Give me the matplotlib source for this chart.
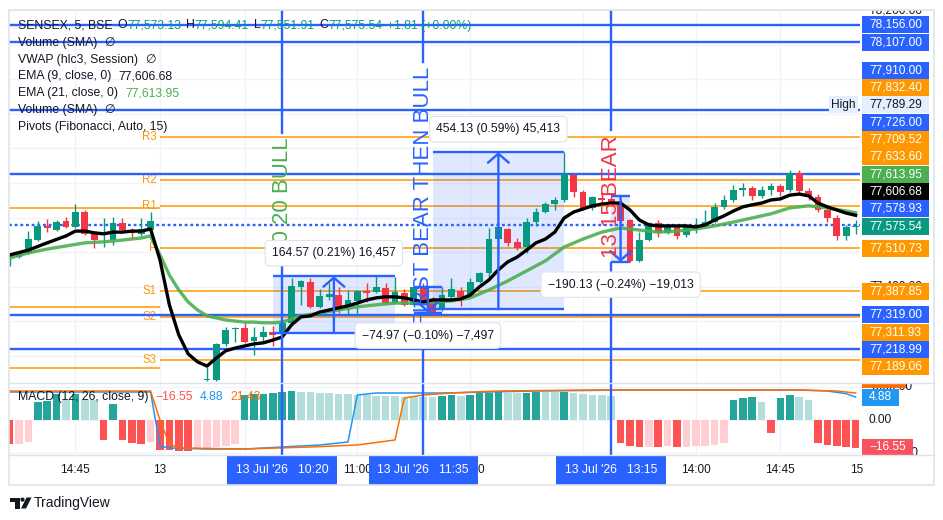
import numpy as np
import matplotlib
matplotlib.use("Agg")
import matplotlib.pyplot as plt
from matplotlib.patches import Rectangle, Polygon, Ellipse
from matplotlib.lines import Line2D
from matplotlib.text import Annotation
from matplotlib.transforms import blended_transform_factory as blend

plt.rcParams['font.family'] = ['Liberation Sans', 'DejaVu Sans']

# ---------------- data ----------------
bar_idx = list(range(-16, 75))   # 5-minute bars, 0 = 13 Jul '26 09:15
opens = [77486, 77486, 77498, 77535, 77576, 77564, 77590, 77573, 77616, 77553, 77553, 77535, 77584, 77561, 77553, 77564,
         77095, 77010, 76830, 76920, 76990, 77131, 77131, 77235, 77278, 77281, 77244, 77255, 77270, 77267, 77296,
         77400, 77414, 77342, 77371, 77376, 77342, 77359, 77388, 77385, 77397, 77353, 77382, 77348, 77400, 77362,
         77333, 77371, 77388, 77376, 77414, 77440, 77538, 77567, 77530, 77515, 77587, 77616, 77639, 77651, 77723,
         77674, 77628, 77657, 77654, 77639, 77593, 77475, 77535, 77584, 77556, 77576, 77550, 77570, 77579, 77587,
         77631, 77651, 77680, 77686, 77663, 77680, 77691, 77680, 77729, 77677, 77660, 77622, 77599, 77547, 77573.13]
highs = [77498, 77498, 77561, 77590, 77596, 77593, 77602, 77639, 77622, 77556, 77599, 77602, 77599, 77570, 77599, 77616,
         77112, 77030, 76960, 77020, 77100, 77168, 77238, 77284, 77284, 77298, 77284, 77287, 77287, 77304, 77426,
         77420, 77426, 77394, 77411, 77400, 77391, 77391, 77411, 77434, 77411, 77429, 77394, 77400, 77411, 77371,
         77400, 77426, 77400, 77426, 77443, 77570, 77587, 77570, 77541, 77599, 77628, 77645, 77660, 77789.29, 77726,
         77680, 77663, 77674, 77663, 77651, 77596, 77558, 77587, 77593, 77582, 77579, 77579, 77599, 77622, 77642,
         77665, 77694, 77700, 77691, 77691, 77700, 77697, 77738, 77738, 77686, 77668, 77637, 77608, 77579, 77594.41]
lows = [77460, 77483, 77495, 77532, 77558, 77561, 77570, 77570, 77550, 77512, 77515, 77521, 77558, 77541, 77547, 77561,
        76940, 76780, 76800, 76900, 76970, 77128, 77128, 77229, 77241, 77238, 77203, 77238, 77229, 77264, 77293,
        77348, 77339, 77339, 77362, 77324, 77319, 77316, 77356, 77382, 77350, 77350, 77345, 77342, 77356, 77319,
        77330, 77368, 77345, 77374, 77411, 77426, 77492, 77518, 77506, 77498, 77576, 77613, 77622, 77645, 77660,
        77622, 77622, 77642, 77637, 77587, 77472, 77472, 77532, 77544, 77553, 77538, 77544, 77556, 77576, 77584,
        77625, 77645, 77663, 77651, 77657, 77665, 77663, 77674, 77671, 77651, 77616, 77587, 77535, 77535, 77551.91]
closes = [77489, 77495, 77538, 77576, 77570, 77587, 77573, 77616, 77553, 77535, 77556, 77584, 77564, 77556, 77567, 77590,
          77010, 76830, 76920, 76990, 77085, 77134, 77235, 77275, 77281, 77241, 77255, 77270, 77261, 77296, 77402,
          77417, 77342, 77374, 77379, 77342, 77362, 77388, 77382, 77400, 77353, 77385, 77348, 77400, 77362, 77327,
          77376, 77394, 77371, 77414, 77440, 77538, 77573, 77527, 77512, 77587, 77616, 77639, 77651, 77726, 77674,
          77625, 77660, 77651, 77639, 77590, 77475, 77535, 77584, 77556, 77579, 77547, 77576, 77576, 77587, 77631,
          77651, 77680, 77686, 77663, 77680, 77691, 77674, 77729, 77677, 77660, 77622, 77599, 77547, 77573.73, 77575.54]

ema9_idx = [-16, -14, -12, -10, -9, -8, -7, -6, -5, -4, -3, -2, -1] + list(range(0, 75))
ema9_val = [77492, 77506, 77527, 77547, 77561, 77561, 77556, 77553, 77558, 77558, 77561, 77561, 77567,
            77478, 77348, 77261, 77206, 77183, 77171, 77194, 77215, 77223, 77229, 77235, 77238, 77246, 77255, 77290,
            77313, 77316, 77327, 77333, 77339, 77345, 77353, 77362, 77368, 77371,
            77371, 77368, 77362, 77356, 77362, 77362, 77362, 77365, 77376, 77400,
            77420, 77449, 77472, 77486, 77506, 77527, 77538, 77558, 77599, 77616,
            77625, 77634, 77639, 77642, 77642, 77622, 77593, 77579, 77576, 77576,
            77576, 77576, 77573, 77579, 77593, 77605, 77619, 77631, 77637, 77642,
            77651, 77654, 77665, 77668, 77663, 77642, 77631, 77622, 77613, 77606.68]
ema21_idx = [-16, -14, -12, -10, -8, -6, -4, -2, -1] + list(range(0, 16)) + list(range(17, 74, 2)) + [74]
ema21_val = [77483, 77498, 77509, 77518, 77527, 77530, 77535, 77541, 77547,
             77492, 77434, 77391, 77356, 77333, 77316, 77310, 77304, 77301, 77298, 77298, 77296, 77296, 77298, 77307, 77316,
             77324, 77333, 77342, 77348, 77353, 77353, 77356, 77359, 77368, 77391, 77417, 77446, 77475, 77515, 77538,
             77558, 77570, 77564, 77558, 77561, 77567, 77576, 77587, 77599, 77611, 77628, 77634, 77628, 77619,
             77613.95]

pivot_names = ["R3", "R2", "R1", "P", "S1", "S2", "S3"]
pivot_levels = [77832.40, 77709.52, 77633.60, 77510.73, 77387.85, 77311.93, 77189.06]
prev_pivot_levels = [77628.0, 77342.0, 77165.5]

blue_levels = [78156.00, 78107.00, 77910.00, 77726.00, 77319.00, 77218.99]
dotted_blue_level = 77578.93

price_ticks_shown = [78200, 77400]   # the other scale ticks sit under the level labels

# price-range measurements: start bar, end bar, start price, end price, caption
measure_i0 = [12, 27, 29, 48]
measure_i1 = [25, 30, 43, 50]
measure_p0 = [77266.40, 77400.00, 77335.16, 77662.50]
measure_p1 = [77430.97, 77325.03, 77789.29, 77472.37]
measure_txt = ["164.57 (0.21%) 16,457", "\u221274.97 (\u22120.10%) \u22127,497",
               "454.13 (0.59%) 45,413", "\u2212190.13 (\u22120.24%) \u221219,013"]

marker_idx = [13, 28, 48]
marker_text = ["10 20 BULL", "FIRST BEAR THEN BULL", "13 15 BEAR"]
marker_date = ["13 Jul '26   10:20", "13 Jul '26   11:35", "13 Jul '26   13:15"]

time_tick_idx = [-9, 0, 21, 33, 57, 66, 75]
time_tick_lbl = ["14:45", "13", "11:00", "12:00", "14:00", "14:45", "15:30"]
grid_time_idx = [-9, 0, 9, 21, 33, 45, 57, 66]

hist_val = [-720, -714, -660, 540, 570, 780, 630, 780, 630, 600, -600, 480, -600, -690, -720, -660,
            -900, -909, -918, -927, -840, -834, -810, -780, -720, 750, 780, 795, 810, 840, 870,
            840, 834, 810, 804, 780, 774, 750, 744, 720, 714, 708, 702, 696, 690, 684,
            720, 750, 720, 750, 810, 819, 828, 822, 816, 825, 840, 834, 828, 840, 810,
            780, 750, 738, 720, -690, -780, -810, -804, -816, -780, -810, -795, -786, -765, -750,
            -690, 600, 660, 690, 540, -390, 660, 750, 690, 600, -690, -750, -780, -810, -825]
macd_idx = [-16, -1, 0, 1, 5, 9, 13, 17, 20, 21, 23, 30, 40, 50, 68, 71, 73, 74]
macd_val = [840, 840, -780, -840, -870, -870, -810, -750, -660, 750, 810, 810, 870, 900, 900, 870, 790, 690]
signal_idx = [-16, -1, 0, 1, 2, 9, 16, 21, 25, 26, 28, 31, 36, 46, 68, 72, 74]
signal_val = [870, 870, 0, -720, -840, -870, -810, -750, -600, 660, 750, 810, 870, 900, 900, 870, 810]
macd_readout = {"hist": "\u221216.55", "macd": "4.88", "signal": "21.43"}

# ---------------- style ----------------
UP, DOWN = "#089981", "#f23645"
BLUE, ORANGE, GREEN, TEAL = "#2962ff", "#ff9800", "#4caf50", "#089981"
DARK, GRID, SEP = "#131722", "#f0f3fa", "#e0e3eb"

W, H = 943, 520
fig = plt.figure(figsize=(W / 100, H / 100), dpi=100)
fig.patch.set_facecolor("white")


def new_axes(x0, y0, x1, y1):
    a = fig.add_axes([x0 / W, 1 - y1 / H, (x1 - x0) / W, (y1 - y0) / H])
    a.set_xticks([])
    a.set_yticks([])
    for s in a.spines.values():
        s.set_visible(False)
    a.set_facecolor("none")
    return a


ax = new_axes(9, 10, 860, 383)
axm = new_axes(9, 383, 860, 455)
sc = new_axes(860, 10, 934, 383)
scm = new_axes(860, 383, 934, 455)
axt = new_axes(9, 455, 863, 485)

XL, XR = -16.06, 74.47
P_LO, P_HI = 77121.97, 78200.0
M_LO, M_HI = -1050, 1110
ax.set_xlim(XL, XR); axm.set_xlim(XL, XR); axt.set_xlim(XL, 74.79)
ax.set_ylim(P_LO, P_HI); sc.set_ylim(P_LO, P_HI)
axm.set_ylim(M_LO, M_HI); scm.set_ylim(M_LO, M_HI)
axt.set_ylim(0, 1); sc.set_xlim(0, 1); scm.set_xlim(0, 1)

# grid
for p in range(77200, 78201, 100):
    ax.axhline(p, color=GRID, lw=1, zorder=0)
for v in (1000, 0, -1000):
    axm.axhline(v, color=GRID, lw=1, zorder=0)
for i in grid_time_idx:
    ax.axvline(i, color=GRID, lw=1, zorder=0)
    axm.axvline(i, color=GRID, lw=1, zorder=0)

# pivots
ax.hlines(pivot_levels, 0, XR + 1, colors=ORANGE, lw=1.1, zorder=1.5)
ax.hlines(prev_pivot_levels, XL - 1, 0, colors=ORANGE, lw=1.1, zorder=1.5)
for nm, lv in zip(pivot_names, pivot_levels):
    ax.text(-0.35, lv, nm, ha="right", va="center", color=ORANGE, fontsize=8.3, zorder=1.6)

# user horizontal lines
for lv in blue_levels:
    ax.axhline(lv, color=BLUE, lw=1.7, zorder=2.5)
ax.axhline(dotted_blue_level, color=BLUE, lw=1.7, ls=(0, (1.2, 1.2)), zorder=2.5)

# candles
x = np.asarray(bar_idx)
o, hi_, lo_, c = map(np.asarray, (opens, highs, lows, closes))
cols = np.where(c >= o, UP, DOWN)
ax.vlines(x, lo_, hi_, colors=cols, lw=1.0, zorder=4)
ax.bar(x, np.maximum(np.abs(c - o), 2.5), bottom=np.minimum(o, c), width=0.72, color=cols, lw=0, zorder=4.5)

# EMAs
ax.plot(ema21_idx, ema21_val, color=GREEN, lw=2.4, alpha=0.9, zorder=5.5, solid_joinstyle="round")
ax.plot(ema9_idx, ema9_val, color="black", lw=2.4, zorder=5.6, solid_joinstyle="round")

# measurement boxes
for i0, i1, p0, p1, txt in zip(measure_i0, measure_i1, measure_p0, measure_p1, measure_txt):
    lo, hi = min(p0, p1), max(p0, p1)
    ax.add_patch(Rectangle((i0, lo), i1 - i0, hi - lo, fc=BLUE, alpha=0.14, lw=0, zorder=2))
    ax.hlines([lo, hi], i0, i1, colors=BLUE, lw=1.7, zorder=6)
    cx = (i0 + i1) / 2
    ax.annotate("", xy=(cx, p1), xytext=(cx, p0),
                arrowprops=dict(arrowstyle="->,head_length=0.65,head_width=0.75", color=BLUE, lw=1.7,
                                shrinkA=0, shrinkB=0), zorder=6)
    rising = p1 > p0
    ax.annotate(txt, xy=(cx, hi if rising else lo), xytext=(0, 16.5 if rising else -16.5),
                textcoords="offset points", ha="center", va="center", fontsize=8.8, color=DARK, zorder=9,
                bbox=dict(boxstyle="round,pad=0.55,rounding_size=0.35", fc="white", ec=SEP, lw=0.8))

# MACD pane
hv = np.asarray(hist_val, dtype=float)
prev = np.r_[hv[0] * 0.99, hv[:-1]]
hcol = np.where(hv >= 0, np.where(hv >= prev, "#26a69a", "#b2dfdb"),
                np.where(hv <= prev, "#ff5252", "#ffcdd2"))
axm.bar(x, hv, width=0.82, color=hcol, lw=0, zorder=2)
axm.plot(macd_idx, macd_val, color="#2196f3", lw=1.1, zorder=3)
axm.plot(signal_idx, signal_val, color="#ff6d00", lw=1.1, zorder=3)

# vertical markers with labels
trx = blend(ax.transData, ax.transAxes)
mcolors = [GREEN, BLUE, DOWN]
mtexts = [ax.text(i, 0.5, s, transform=trx, rotation=90, ha="center", va="center",
                  fontsize=16, color=col, zorder=7)
          for i, s, col in zip(marker_idx, marker_text, mcolors)]
fig.canvas.draw()
rend = fig.canvas.get_renderer()
for i, t in zip(marker_idx, mtexts):
    bb = t.get_window_extent(rend)
    ab = ax.bbox
    y0 = (bb.y0 - ab.y0) / ab.height
    y1 = (bb.y1 - ab.y0) / ab.height
    g = 5 / ab.height
    ax.axvline(i, 0, y0 - g, color=BLUE, lw=1.7, zorder=6)
    ax.axvline(i, y1 + g, 1, color=BLUE, lw=1.7, zorder=6)
    axm.axvline(i, color=BLUE, lw=1.7, zorder=6)

# time axis
trt = blend(axt.transData, axt.transAxes)
for i, s in zip(time_tick_idx, time_tick_lbl):
    axt.text(i, 0.5, s, transform=trt, ha="center", va="center", fontsize=8.5, color=DARK, clip_on=True, zorder=2)
for i, s in zip(marker_idx, marker_date):
    axt.text(i, 0.5, s, transform=trt, ha="center", va="center", fontsize=8.8, color="white", zorder=5,
             bbox=dict(boxstyle="square,pad=0.72", fc=BLUE, ec="none"))

# price scale
trs = blend(sc.transAxes, sc.transData)
for p in price_ticks_shown:
    sc.text(0.48, p, f"{p:,.2f}", transform=trs, ha="center", va="center", fontsize=8.6, color=DARK,
            clip_on=True, zorder=1)
ppp = sc.bbox.height / (P_HI - P_LO)
hstep = 17.3 / ppp
bh = 17.0 / ppp
anchor = closes[-1]
items = [(lv, BLUE, "white") for lv in blue_levels + [dotted_blue_level]]
items += [(lv, ORANGE, "white") for lv in pivot_levels]
items += [(ema9_val[-1], "black", "white"), (ema21_val[-1], GREEN, "white")]
day_high = max(highs)
items += [(day_high, "#e3effd", DARK)]
placed = [(anchor, anchor, TEAL, "white")]
pv = anchor
for lv, bg, fg in sorted([it for it in items if it[0] > anchor], key=lambda t: t[0]):
    pos = max(lv, pv + hstep)
    placed.append((lv, pos, bg, fg)); pv = pos
pv = anchor
for lv, bg, fg in sorted([it for it in items if it[0] <= anchor], key=lambda t: -t[0]):
    pos = min(lv, pv - hstep)
    placed.append((lv, pos, bg, fg)); pv = pos
for lv, pos, bg, fg in placed:
    sc.add_patch(Rectangle((0.027, pos - bh / 2), 0.905, bh, transform=trs, fc=bg, ec="none", zorder=3,
                           clip_on=True))
    sc.text(0.48, pos, f"{lv:,.2f}", transform=trs, ha="center", va="center", fontsize=8.6, color=fg,
            zorder=4, clip_on=True)
    if lv == day_high:
        trh = blend(fig.transFigure, sc.transData)
        sc.add_patch(Rectangle((829 / W, pos - bh / 2), 29 / W, bh, transform=trh, fc=bg, ec="none",
                               zorder=3, clip_on=False))
        sc.text(843.5 / W, pos, "High", transform=trh, ha="center", va="center", fontsize=8.6, color=fg,
                zorder=4, clip_on=False)

# MACD scale
trm = blend(scm.transAxes, scm.transData)
for v, s in [(1000, "1000.00"), (0, "0.00"), (-1000, "\u22121000.00")]:
    scm.text(0.12, v, s, transform=trm, ha="left", va="center", fontsize=8.6, color=DARK, clip_on=True, zorder=1)
mpp = scm.bbox.height / (M_HI - M_LO)
mstep = 17.3 / mpp
mbh = 17.0 / mpp
m_anchor = macd_val[-1]
mlabels = [(m_anchor, macd_readout["macd"], "#2196f3"),
           (max(signal_val[-1], m_anchor + mstep), macd_readout["signal"], "#ff6d00"),
           (min(hist_val[-1], m_anchor - mstep), macd_readout["hist"], "#f7525f")]
for pos, s, bg in mlabels:
    wpx = 7.2 * len(s) + 8
    scm.add_patch(Rectangle((0.03, pos - mbh / 2), wpx / 74, mbh, transform=trm, fc=bg, ec="none", zorder=3,
                            clip_on=True))
    scm.text(0.03 + wpx / 148, pos, s, transform=trm, ha="center", va="center", fontsize=8.6, color="white",
             zorder=4, clip_on=True)


# legends
def legend_row(x_px, y_px, parts, fs=8.8):
    prev_t = fig.text(x_px / W, 1 - y_px / H, parts[0][0], color=parts[0][1], fontsize=fs,
                      ha="left", va="center", zorder=20)
    for s, col, gap in parts[1:]:
        a = Annotation(s, xy=(1, 0.5), xycoords=prev_t, xytext=(gap, 0), textcoords="offset points",
                       ha="left", va="center", color=col, fontsize=fs, zorder=20)
        fig.add_artist(a)
        prev_t = a


chg = closes[-1] - closes[-2]
legend_row(18, 25.5, [("SENSEX, 5, BSE", DARK, 0),
                      ("O", DARK, 3.5), (f"{opens[-1]:,.2f}", TEAL, 0),
                      ("H", DARK, 3.5), (f"{highs[-1]:,.2f}", TEAL, 0),
                      ("L", DARK, 3.5), (f"{lows[-1]:,.2f}", TEAL, 0),
                      ("C", DARK, 3.5), (f"{closes[-1]:,.2f}", TEAL, 0),
                      (f"{chg:+.2f} ({chg / closes[-2] * 100:+.2f}%)", TEAL, 3.5)])
legend_row(18, 43, [("Volume (SMA)", DARK, 0), ("\u2205", DARK, 5)])
legend_row(18, 60, [("VWAP (hlc3, Session)", DARK, 0), ("\u2205", DARK, 5)])
legend_row(18, 76.5, [("EMA (9, close, 0)", DARK, 0), (f"{ema9_val[-1]:,.2f}", DARK, 5)])
legend_row(18, 93, [("EMA (21, close, 0)", DARK, 0), (f"{ema21_val[-1]:,.2f}", GREEN, 5)])
legend_row(18, 110, [("Volume (SMA)", DARK, 0), ("\u2205", DARK, 5)])
legend_row(18, 127, [("Pivots (Fibonacci, Auto, 15)", DARK, 0)])
legend_row(18, 397, [("MACD (12, 26, close, 9)", DARK, 0), (macd_readout["hist"], "#ff5252", 5),
                     (macd_readout["macd"], "#2196f3", 5), (macd_readout["signal"], "#ff6d00", 5)])

# separators and frame
for yy in (383, 455):
    fig.add_artist(Line2D([9 / W, 934 / W], [1 - yy / H] * 2, color=SEP, lw=1, transform=fig.transFigure))
fig.add_artist(Rectangle((9 / W, 1 - 485 / H), 925 / W, 475 / H, fill=False, ec=SEP, lw=1.2,
                         transform=fig.transFigure))

# TradingView logo
tf = fig.transFigure
fig.add_artist(Rectangle((10 / W, 1 - 501.5 / H), 9.5 / W, 4 / H, fc=DARK, ec="none", transform=tf))
fig.add_artist(Rectangle((15 / W, 1 - 508.5 / H), 4.5 / W, 11 / H, fc=DARK, ec="none", transform=tf))
fig.add_artist(Ellipse((22.5 / W, 1 - 499.6 / H), 4.2 / W, 4.2 / H, fc=DARK, ec="none", transform=tf))
fig.add_artist(Polygon([(26.5 / W, 1 - 497.5 / H), (31.5 / W, 1 - 497.5 / H), (26 / W, 1 - 508.5 / H),
                        (21 / W, 1 - 508.5 / H)], closed=True, fc=DARK, ec="none", transform=tf))
fig.text(34 / W, 1 - 503 / H, "TradingView", fontsize=10, color=DARK, va="center", ha="left")

fig.savefig("out.png", dpi=100, facecolor="white")
